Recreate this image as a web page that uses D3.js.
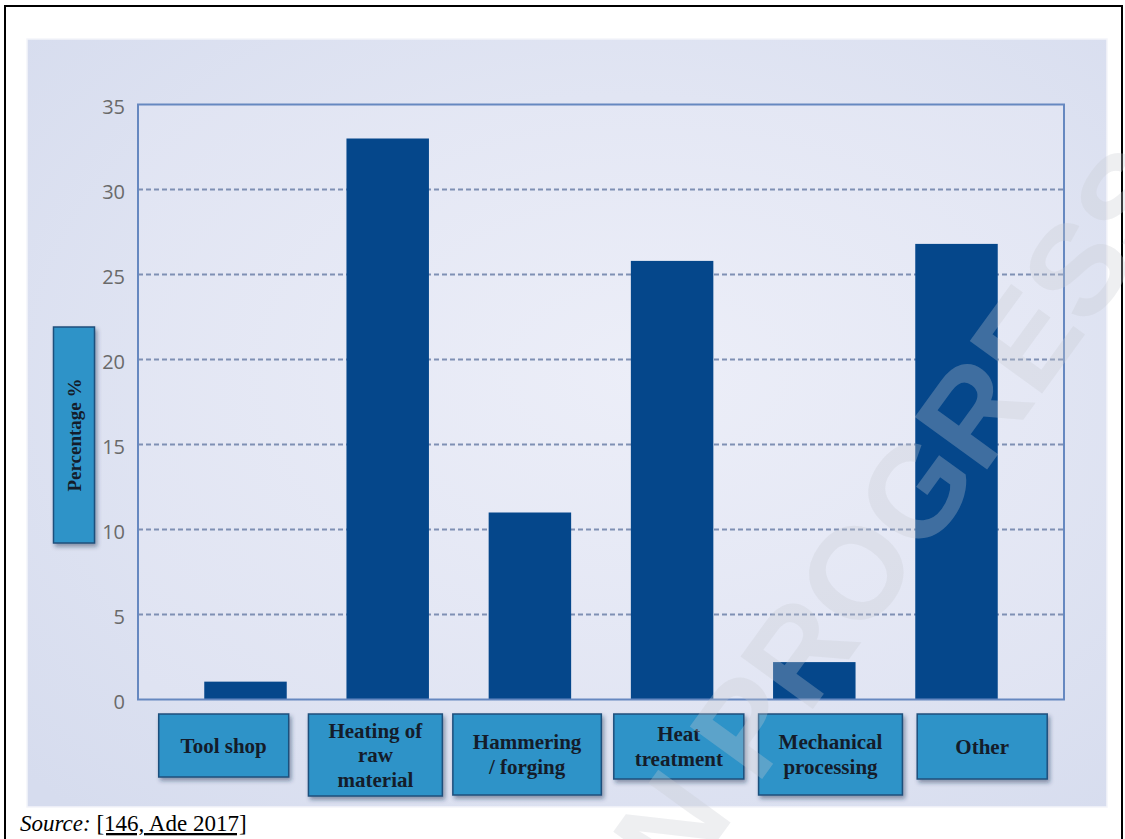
<!DOCTYPE html>
<html>
<head>
<meta charset="utf-8">
<script src="https://cdn.jsdelivr.net/npm/d3@7"></script>
<style>
  html, body { margin: 0; padding: 0; background: #ffffff; }
  svg { display: block; }
</style>
</head>
<body>
<svg id="chart" width="1125" height="839"></svg>
<script>
// ---- data ----
const categories = ["Tool shop", "Heating of raw material", "Hammering / forging", "Heat treatment", "Mechanical processing", "Other"];
const categoryLines = [["Tool shop"], ["Heating of", "raw", "material"], ["Hammering", "/ forging"], ["Heat", "treatment"], ["Mechanical", "processing"], ["Other"]];
const values = [1.05, 33.0, 11.0, 25.8, 2.2, 26.8];
const yTicks = [0, 5, 10, 15, 20, 25, 30, 35];
const yLabel = "Percentage %";
const sourceLabel = "Source:";
const sourceRef = "[146, Ade 2017]";
const watermark = "WORKING DRAFT IN PROGRESS";

// ---- layout ----
const W = 1125, H = 839;
const plot = { left: 138, right: 1064, top: 104.5, bottom: 699.5 };
const boxHeights = [63, 82, 81, 65, 81, 65];

const svg = d3.select("#chart");
const defs = svg.append("defs");

const grad = defs.append("radialGradient").attr("id", "bg")
  .attr("cx", "55%").attr("cy", "45%").attr("r", "75%");
grad.append("stop").attr("offset", "0%").attr("stop-color", "#eceef8");
grad.append("stop").attr("offset", "100%").attr("stop-color", "#d6dcee");

const grad2 = defs.append("radialGradient").attr("id", "plotbg")
  .attr("cx", "55%").attr("cy", "45%").attr("r", "75%");
grad2.append("stop").attr("offset", "0%").attr("stop-color", "#eceef8");
grad2.append("stop").attr("offset", "100%").attr("stop-color", "#dfe3f2");

const shadow = defs.append("filter").attr("id", "shadow")
  .attr("x", "-10%").attr("y", "-10%").attr("width", "130%").attr("height", "140%");
shadow.append("feDropShadow").attr("dx", 2).attr("dy", 3).attr("stdDeviation", 2)
  .attr("flood-color", "#1a2a50").attr("flood-opacity", 0.45);

const clip = defs.append("clipPath").attr("id", "pageclip");
clip.append("rect").attr("x", 0).attr("y", 0).attr("width", W).attr("height", H);

// outer frame
svg.append("rect").attr("x", 5).attr("y", 6).attr("width", 1117).attr("height", 900)
  .attr("fill", "#ffffff").attr("stroke", "#000").attr("stroke-width", 2);

// panel
svg.append("rect").attr("x", 27).attr("y", 39).attr("width", 1080).attr("height", 768)
  .attr("fill", "url(#bg)").attr("stroke", "#f4f5fa").attr("stroke-width", 1.5);

// scales
const y = d3.scaleLinear().domain([0, 35]).range([plot.bottom, plot.top]);
const x = d3.scaleBand().domain(categories).range([174.4, 1027.6]).paddingInner(0.42).paddingOuter(0.21);
const xBox = d3.scaleBand().domain(categories).range([147.85, 1058.05]);

// plot area bg
svg.append("rect").attr("x", plot.left).attr("y", plot.top)
  .attr("width", plot.right - plot.left).attr("height", plot.bottom - plot.top)
  .attr("fill", "url(#plotbg)");

// gridlines
svg.append("g").selectAll("line").data(yTicks.filter(d => d > 0 && d < 35)).join("line")
  .attr("x1", plot.left).attr("x2", plot.right)
  .attr("y1", d => y(d)).attr("y2", d => y(d))
  .attr("stroke", "#7f90b4").attr("stroke-width", 2).attr("stroke-dasharray", "5,3");

// bars
svg.append("g").selectAll("rect").data(categories).join("rect")
  .attr("x", d => x(d))
  .attr("width", x.bandwidth())
  .attr("y", (d, i) => y(values[i]))
  .attr("height", (d, i) => y(0) - y(values[i]))
  .attr("fill", "#05478b");

// plot border
svg.append("rect").attr("x", plot.left).attr("y", plot.top)
  .attr("width", plot.right - plot.left).attr("height", plot.bottom - plot.top)
  .attr("fill", "none").attr("stroke", "#6688c0").attr("stroke-width", 2);

// y axis labels
const yAxis = d3.axisLeft(y).tickValues(yTicks).tickSize(0).tickPadding(13).tickFormat(d3.format("d"));
const yg = svg.append("g").attr("transform", `translate(${plot.left},0)`).call(yAxis);
yg.select(".domain").remove();
yg.selectAll("text").attr("font-family", "'Open Sans', sans-serif").attr("font-size", 20)
  .attr("fill", "#6a6a6a").attr("dy", "0.45em");

// y label box
const ylb = svg.append("g");
ylb.append("rect").attr("x", 53.5).attr("y", 327).attr("width", 41).attr("height", 216)
  .attr("fill", "#2e93c8").attr("stroke", "#1f4f7c").attr("stroke-width", 1.5)
  .attr("filter", "url(#shadow)");
ylb.append("text").attr("transform", "translate(81,435) rotate(-90)")
  .attr("text-anchor", "middle").attr("font-family", "'Liberation Serif', serif")
  .attr("font-weight", "bold").attr("font-size", 19).attr("fill", "#141c2a").text(yLabel);

// category label boxes
const boxG = svg.append("g").selectAll("g").data(categories).join("g");
boxG.each(function (d, i) {
  const g = d3.select(this);
  const lines = categoryLines[i];
  const cx = xBox(d) + xBox.bandwidth() / 2;
  const t = g.append("text").attr("font-family", "'Liberation Serif', serif")
    .attr("font-weight", "bold").attr("font-size", 21).attr("fill", "#141c2a")
    .attr("text-anchor", "middle");
  const bh = boxHeights[i];
  const top = 714;
  const cy = top + bh / 2;
  const lh = 24.5;
  lines.forEach((ln, k) => {
    t.append("tspan").attr("x", cx)
      .attr("y", cy + 7 + (k - (lines.length - 1) / 2) * lh).text(ln);
  });
  let tw = 0;
  t.selectAll("tspan").each(function () { tw = Math.max(tw, this.getComputedTextLength()); });
  const bw = Math.max(130, tw + 40);
  g.insert("rect", "text").attr("x", cx - bw / 2).attr("y", top).attr("width", bw).attr("height", bh)
    .attr("fill", "#2e93c8").attr("stroke", "#1f4f7c").attr("stroke-width", 1.5)
    .attr("filter", "url(#shadow)");
});

// watermark (clipped by the page, as in the reference)
svg.append("g").attr("clip-path", "url(#pageclip)")
  .append("text").attr("transform", "translate(1190,190) rotate(-54)")
  .attr("text-anchor", "end").attr("font-family", "'Liberation Sans', sans-serif")
  .attr("font-weight", "bold").attr("font-size", 130)
  .attr("fill", "#c8cad0").attr("fill-opacity", 0.3).text(watermark);

// source line
const src = svg.append("text").attr("x", 20).attr("y", 831)
  .attr("font-family", "'Liberation Serif', serif").attr("font-size", 23).attr("fill", "#000");
src.append("tspan").attr("font-style", "italic").text(sourceLabel);
src.append("tspan").text(" ");
src.append("tspan").attr("text-decoration", "underline").text(sourceRef);
</script>
</body>
</html>
